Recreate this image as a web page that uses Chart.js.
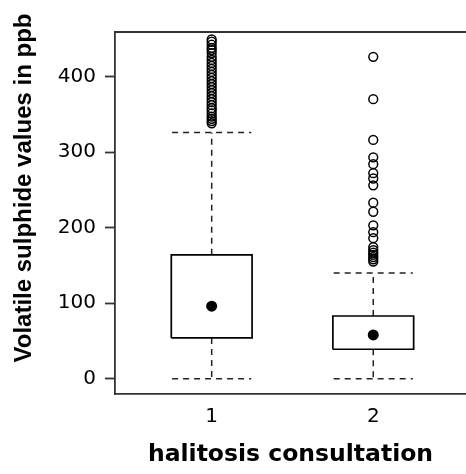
<!DOCTYPE html>
<html>
<head>
<meta charset="utf-8">
<script src="https://cdn.jsdelivr.net/npm/chart.js@4/dist/chart.umd.min.js"></script>
<style>
  html, body { margin: 0; padding: 0; background: #fff; }
  #wrap { width: 466px; height: 474px; }
</style>
</head>
<body>
<div id="wrap"><canvas id="chart" width="466" height="474"></canvas></div>
<script>
// --- Données du boxplot ---
const groups = [1, 2];
const xTickLabels = ['1', '2'];
const yTicks = [0, 100, 200, 300, 400];
const whiskerLow = [0, 0];
const q1 = [54, 39];
const medians = [96, 58];
const q3 = [164, 83];
const whiskerHigh = [326, 140];
const outliers1 = [449, 446, 442, 438, 435, 431, 426, 422, 418, 414, 410, 406, 402, 398, 394,
                   390, 386, 382, 378, 374, 370, 366, 362, 358, 355, 351, 347, 344, 341, 338];
const outliers2 = [426, 370, 316, 293, 284, 272, 265, 256, 233, 221, 203, 194, 186,
                   174, 170, 167, 164, 161, 158, 155];
const outliers = [outliers1, outliers2];

const xTitle = 'halitosis consultation';
const yTitle = 'Volatile sulphide values in ppb';

const boxHalf = 0.25;
const capHalf = 0.245;
const frameColor = '#333';

Chart.defaults.font.family = "'DejaVu Sans', sans-serif";
Chart.defaults.color = '#000';

function lineSet(points, dashed) {
    return {
        type: 'scatter',
        data: points,
        showLine: true,
        tension: 0,
        borderColor: dashed ? '#222' : '#000',
        borderWidth: dashed ? 1.5 : 1.7,
        borderDash: dashed ? [6, 5] : [],
        pointRadius: 0,
        pointHoverRadius: 0,
        fill: false
    };
}

const datasets = [];
groups.forEach((g, i) => {
    // boîte
    datasets.push(lineSet([
        {x: g - boxHalf, y: q1[i]}, {x: g + boxHalf, y: q1[i]},
        {x: g + boxHalf, y: q3[i]}, {x: g - boxHalf, y: q3[i]},
        {x: g - boxHalf, y: q1[i]}
    ], false));
    // moustaches
    datasets.push(lineSet([{x: g, y: q3[i]}, {x: g, y: whiskerHigh[i]}], true));
    datasets.push(lineSet([{x: g, y: q1[i]}, {x: g, y: whiskerLow[i]}], true));
    datasets.push(lineSet([{x: g - capHalf, y: whiskerHigh[i]}, {x: g + capHalf, y: whiskerHigh[i]}], true));
    datasets.push(lineSet([{x: g - capHalf, y: whiskerLow[i]}, {x: g + capHalf, y: whiskerLow[i]}], true));
    // valeurs extrêmes
    datasets.push({
        type: 'scatter',
        data: outliers[i].map(v => ({x: g, y: v})),
        pointStyle: 'circle',
        pointRadius: 4.4,
        pointBorderWidth: 1.5,
        pointBorderColor: '#000',
        pointBackgroundColor: 'rgba(255,255,255,0)'
    });
    // médiane
    datasets.push({
        type: 'scatter',
        data: [{x: g, y: medians[i]}],
        pointStyle: 'circle',
        pointRadius: 5.5,
        pointBorderWidth: 0,
        pointBackgroundColor: '#000'
    });
});

// Cadre du haut + titre de l'axe Y
const framePlugin = {
    id: 'frame',
    afterDraw(chart) {
        const {ctx, chartArea} = chart;
        ctx.save();
        ctx.strokeStyle = frameColor;
        ctx.lineWidth = 1.8;
        ctx.beginPath();
        ctx.moveTo(chartArea.left, chartArea.top);
        ctx.lineTo(chart.width, chartArea.top);
        ctx.stroke();

        ctx.translate(24, 188);
        ctx.rotate(-Math.PI / 2);
        ctx.font = "bold 24px 'Liberation Sans', Arial, sans-serif";
        ctx.fillStyle = '#000';
        ctx.textAlign = 'center';
        ctx.textBaseline = 'middle';
        ctx.fillText(yTitle, 0, 0);
        ctx.restore();
    }
};

new Chart(document.getElementById('chart'), {
    type: 'scatter',
    data: { datasets },
    options: {
        responsive: false,
        animation: false,
        layout: { autoPadding: false, padding: { top: 32, right: 0, left: 0, bottom: 0 } },
        plugins: { legend: { display: false }, tooltip: { enabled: false } },
        scales: {
            x: {
                type: 'linear',
                min: 0.4016,
                max: 2.574,
                afterFit: s => { s.height = 80; },
                afterBuildTicks: s => { s.ticks = groups.map(v => ({value: v})); },
                ticks: {
                    font: { size: 20 },
                    padding: 11,
                    callback: (v) => xTickLabels[groups.indexOf(v)]
                },
                grid: { drawOnChartArea: false, drawTicks: false },
                border: { display: true, color: frameColor, width: 1.8 },
                title: {
                    display: true,
                    text: xTitle,
                    font: { size: 23.5, weight: 'bold' },
                    padding: { top: 0, bottom: 5 }
                }
            },
            y: {
                type: 'linear',
                min: -20.25,
                max: 458.9,
                afterFit: s => { s.width = 115; },
                afterBuildTicks: s => { s.ticks = yTicks.map(v => ({value: v})); },
                ticks: { font: { size: 20 }, padding: 9 },
                grid: {
                    drawOnChartArea: false,
                    drawTicks: true,
                    tickLength: 10,
                    tickColor: frameColor,
                    tickWidth: 1.8
                },
                border: { display: true, color: frameColor, width: 1.8 }
            }
        }
    },
    plugins: [framePlugin]
});
</script>
</body>
</html>
